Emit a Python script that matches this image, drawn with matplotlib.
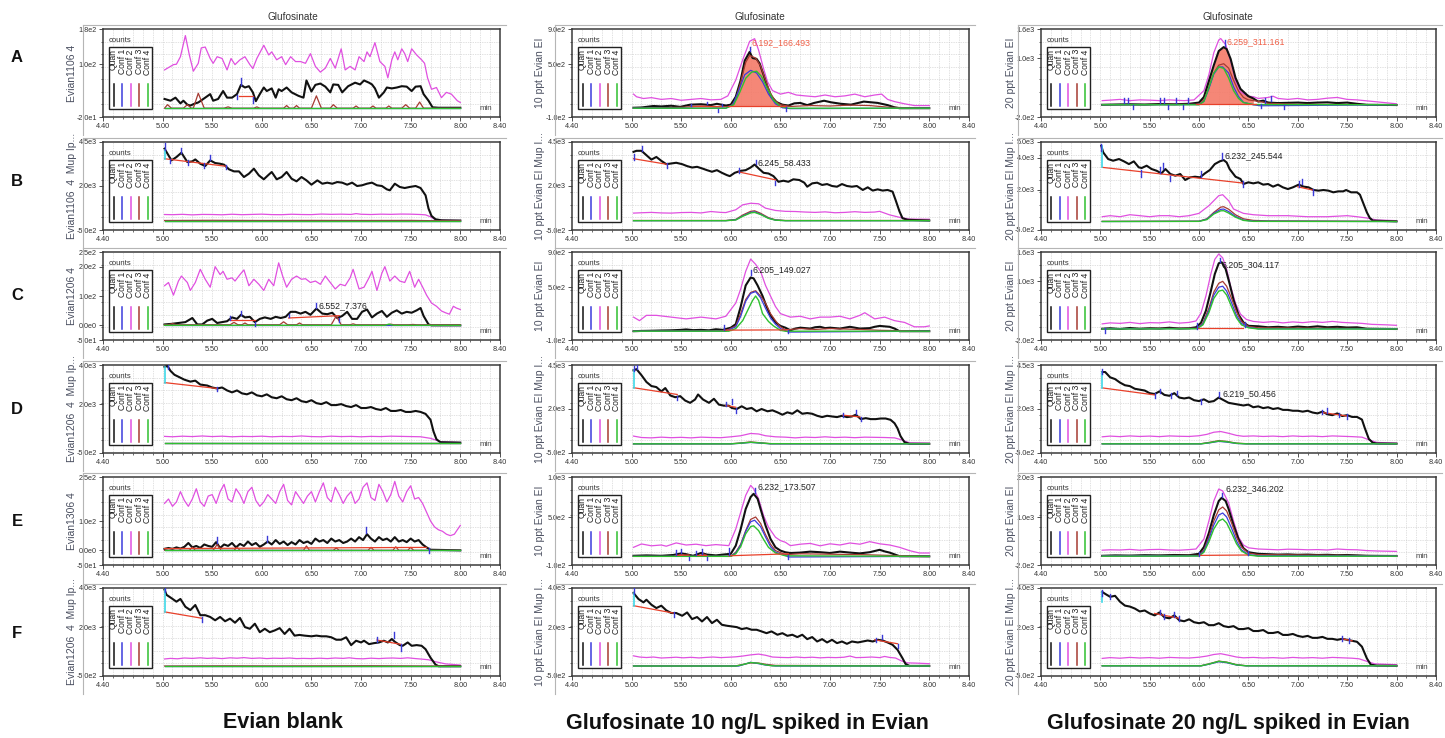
import numpy as np
import matplotlib
matplotlib.use("Agg")
import matplotlib.pyplot as plt
from matplotlib.patches import Rectangle
from matplotlib.lines import Line2D
from matplotlib.ticker import MultipleLocator
from matplotlib import font_manager

plt.rcParams['font.family'] = ['Liberation Sans', 'DejaVu Sans']
_names = {f.name for f in font_manager.fontManager.ttflist}
NARROW = ['Liberation Sans Narrow', 'Liberation Sans'] if 'Liberation Sans Narrow' in _names else ['Liberation Sans', 'DejaVu Sans']

# ====================== DATA ======================
COL_TITLES = ["Evian blank", "Glufosinate 10 ng/L spiked in Evian", "Glufosinate 20 ng/L spiked in Evian"]
ROW_LETTERS = ["A", "B", "C", "D", "E", "F"]
COMPOUND = "Glufosinate"
LEGEND_NAMES = ["Quan", "Conf 1", "Conf 2", "Conf 3", "Conf 4"]
X_TICKS = [4.40, 5.00, 5.50, 6.00, 6.50, 7.00, 7.50, 8.00, 8.40]

YLABELS_L = ["Evian1106 4", "Evian1106  4  Mup Ip...", "Evian1206 4",
             "Evian1206  4  Mup Ip...", "Evian1306 4", "Evian1206  4  Mup Ip..."]
YLABELS_M = ["10 ppt Evian EI", "10 ppt Evian EI Mup I...", "10 ppt Evian EI",
             "10 ppt Evian EI Mup I...", "10 ppt Evian EI", "10 ppt Evian EI Mup I..."]
YLABELS_R = ["20 ppt Evian EI", "20 ppt Evian EI Mup I...", "20 ppt Evian EI",
             "20 ppt Evian EI Mup I...", "20 ppt Evian EI", "20 ppt Evian EI Mup I..."]

# y tick values per panel (first = axis min, last = axis max)
YT_L = [[-20, 100, 180], [-500, 2000, 4500], [-50, 0, 100, 200, 250],
        [-500, 2000, 4000], [-50, 0, 100, 250], [-500, 2000, 4000]]
YT_M = [[-100, 500, 900], [-500, 2000, 4500], [-100, 500, 900],
        [-500, 2000, 4500], [-100, 500, 1000], [-500, 2000, 4000]]
YT_R = [[-200, 1000, 1600], [-500, 2000, 4000, 5000], [-200, 1000, 1600],
        [-500, 2000, 4500], [-200, 1000, 2000], [-500, 2000, 4000]]

# ---------------- Left column: Evian blank ----------------
LA_quan = [(5.02,21),(5.08,17),(5.13,24),(5.18,11),(5.21,17),(5.25,8),(5.28,6),(5.33,11),(5.36,13),(5.43,24),
           (5.48,32),(5.51,17),(5.56,21),(5.61,39),(5.65,24),(5.70,24),(5.75,32),(5.79,53),(5.83,47),(5.87,50),
           (5.91,36),(5.94,16),(5.98,32),(6.02,47),(6.05,39),(6.10,45),(6.14,24),(6.17,43),(6.20,39),(6.25,47),
           (6.30,36),(6.37,28),(6.42,24),(6.45,63),(6.50,38),(6.54,53),(6.59,56),(6.64,49),(6.69,36),(6.72,54),
           (6.77,53),(6.81,36),(6.87,50),(6.94,58),(6.99,54),(7.03,63),(7.08,58),(7.11,54),(7.14,45),(7.18,24),
           (7.23,36),(7.26,47),(7.31,45),(7.36,47),(7.41,50),(7.46,49),(7.51,39),(7.55,49),(7.60,50),(7.63,32),
           (7.68,17),(7.72,2),(7.78,1),(8.00,1)]
LA_c2 = [(5.02,87),(5.11,99),(5.14,100),(5.18,117),(5.23,165),(5.27,121),(5.31,84),(5.36,102),(5.39,137),(5.43,139),
         (5.48,113),(5.51,102),(5.55,117),(5.60,113),(5.65,87),(5.69,113),(5.73,99),(5.78,110),(5.83,117),(5.88,99),
         (5.91,90),(5.95,113),(6.02,143),(6.07,121),(6.10,128),(6.15,110),(6.20,117),(6.24,99),(6.29,117),(6.34,106),
         (6.39,106),(6.44,102),(6.49,124),(6.54,95),(6.59,82),(6.64,91),(6.69,113),(6.74,91),(6.80,135),(6.84,87),
         (6.89,95),(6.94,87),(6.98,117),(7.03,106),(7.06,128),(7.09,117),(7.14,149),(7.19,106),(7.24,95),(7.27,69),
         (7.31,110),(7.34,128),(7.37,110),(7.41,135),(7.44,124),(7.47,106),(7.51,135),(7.56,121),(7.61,110),(7.64,102),
         (7.67,69),(7.71,43),(7.76,47),(7.81,24),(7.86,36),(7.91,32),(7.97,17),(8.00,13)]
LA_c3 = [(5.02,0),(5.05,8),(5.09,0),(5.21,0),(5.25,8),(5.29,0),(5.31,0),(5.36,34),(5.42,0),(5.62,0),(5.66,3),
         (5.70,0),(5.92,0),(5.95,3),(5.98,0),(6.22,0),(6.25,6),(6.28,0),(6.32,0),(6.35,6),(6.38,0),(6.50,0),
         (6.55,28),(6.60,0),(6.69,0),(6.72,8),(6.76,0),(6.92,0),(6.95,5),(6.98,0),(7.09,0),(7.12,5),(7.15,0),
         (7.25,0),(7.28,5),(7.31,0),(7.41,0),(7.45,8),(7.49,0),(7.55,0),(7.59,14),(7.63,0),(8.00,0)]
LA_c1 = [(5.02,0),(8.00,0)]
LA_c4 = [(5.02,0),(8.00,0)]
LA_red = [((5.77,28),(5.91,28))]
LA_marks = [(5.79,53,68),(5.91,12,26),(5.75,20,30)]

LB_quan = [(5.02,4120),(5.06,3740),(5.09,3455),(5.14,3645),(5.19,3890),(5.25,3360),(5.30,3400),(5.33,3510),(5.38,3265),
           (5.43,3135),(5.48,3455),(5.53,3305),(5.58,3265),(5.62,3210),(5.67,2945),(5.72,2830),(5.77,2830),(5.82,2510),
           (5.87,2700),(5.92,2985),(5.97,2605),(6.02,2380),(6.07,2645),(6.10,2795),(6.15,2380),(6.20,2510),(6.25,2795),
           (6.30,2415),(6.35,2265),(6.40,2510),(6.45,2320),(6.50,2075),(6.56,2320),(6.61,2130),(6.66,2190),(6.71,2130),
           (6.76,2225),(6.81,2190),(6.86,2075),(6.91,2190),(6.96,2000),(7.01,2040),(7.06,2130),(7.11,2190),(7.16,2040),
           (7.21,2000),(7.26,1810),(7.29,1755),(7.34,2130),(7.39,1945),(7.44,1885),(7.49,1945),(7.55,2000),(7.60,1885),
           (7.65,1470),(7.68,715),(7.71,300),(7.75,110),(7.81,50),(8.00,35)]
LB_c2 = [(5.02,380),(5.10,370),(5.20,390),(5.30,360),(5.40,385),(5.50,380),(5.60,365),(5.70,395),(5.80,370),(5.90,385),
         (6.00,400),(6.10,375),(6.20,370),(6.30,395),(6.40,380),(6.50,375),(6.60,405),(6.70,390),(6.80,400),(6.90,385),
         (6.95,430),(7.00,395),(7.10,380),(7.20,400),(7.30,390),(7.40,405),(7.50,400),(7.60,380),(7.65,360),(7.70,250),
         (7.75,80),(7.85,50),(8.00,40)]
LB_c3 = [(5.02,40),(5.50,50),(6.00,40),(6.50,45),(7.00,40),(7.50,45),(7.70,30),(8.00,30)]
LB_c1 = [(5.02,30),(8.00,30)]
LB_c4 = [(5.02,30),(8.00,30)]
LB_red = [((5.02,3550),(5.64,3120))]
LB_cyan = [(5.02,3550,4020)]
LB_marks = [(5.02,4050,4450),(5.08,3300,3550),(5.19,3850,4150),(5.26,3200,3450),(5.42,3050,3300),(5.48,3450,3750),(5.64,2950,3200)]

LC_quan = [(5.02,3),(5.09,5),(5.16,8),(5.23,11),(5.30,25),(5.35,3),(5.40,3),(5.45,16),(5.50,22),(5.55,8),(5.60,11),
           (5.65,14),(5.70,27),(5.75,22),(5.79,36),(5.83,27),(5.88,29),(5.93,11),(5.98,22),(6.03,27),(6.09,22),(6.14,29),
           (6.19,25),(6.24,29),(6.29,46),(6.34,46),(6.39,40),(6.44,46),(6.49,36),(6.55,57),(6.61,40),(6.66,38),(6.71,43),
           (6.76,25),(6.81,32),(6.86,46),(6.91,22),(6.96,22),(7.01,46),(7.06,54),(7.11,27),(7.16,40),(7.21,49),(7.26,29),
           (7.31,43),(7.36,51),(7.41,40),(7.46,46),(7.51,43),(7.56,51),(7.60,59),(7.63,32),(7.68,3),(7.71,0),(8.00,0)]
LC_c2 = [(5.02,135),(5.06,146),(5.11,103),(5.16,151),(5.19,168),(5.25,146),(5.28,119),(5.33,146),(5.38,191),(5.43,157),
         (5.48,130),(5.53,200),(5.58,173),(5.61,184),(5.65,157),(5.70,162),(5.73,151),(5.78,173),(5.82,189),(5.87,135),
         (5.92,157),(5.97,140),(6.02,119),(6.07,157),(6.12,135),(6.17,213),(6.21,168),(6.25,130),(6.30,157),(6.35,168),
         (6.40,157),(6.44,159),(6.49,146),(6.54,151),(6.59,140),(6.64,168),(6.69,146),(6.74,124),(6.79,140),(6.84,135),
         (6.89,162),(6.92,191),(6.98,124),(7.03,130),(7.08,162),(7.11,184),(7.16,119),(7.21,178),(7.24,200),(7.29,151),
         (7.34,168),(7.39,151),(7.44,146),(7.49,184),(7.54,130),(7.58,157),(7.63,124),(7.66,103),(7.71,76),(7.76,65),
         (7.81,49),(7.85,43),(7.89,38),(7.93,65),(7.96,59),(8.00,54)]
LC_c3 = [(5.02,2),(5.06,2),(5.10,6),(5.14,2),(5.68,2),(5.72,10),(5.76,2),(5.80,2),(5.83,8),(5.86,2),(6.18,2),(6.22,12),
         (6.26,2),(6.35,2),(6.38,8),(6.41,2),(6.70,2),(6.75,32),(6.80,2),(6.89,2),(6.92,5),(6.95,2),(7.27,2),(7.30,4),
         (7.33,2),(7.48,2),(7.52,3),(7.56,2),(8.00,2)]
LC_c1 = [(5.02,0),(8.00,0)]
LC_c4 = [(5.02,0),(7.24,0),(7.28,4),(7.33,0),(8.00,0)]
LC_red = [((5.68,18),(5.93,18)), ((6.27,25),(6.78,33))]
LC_marks = [(5.68,18,32),(5.79,36,50),(5.93,-3,12),(6.27,27,40),(6.55,60,75),(6.78,10,25)]
LC_label = (6.575, 66, "6.552_7.376")

LD_quan = [(5.02,3900),(5.05,3950),(5.08,3700),(5.12,3500),(5.18,3350),(5.22,3250),(5.28,3150),(5.33,3200),(5.38,3000),
           (5.45,2950),(5.50,2850),(5.55,2800),(5.60,2850),(5.65,2700),(5.70,2600),(5.75,2700),(5.80,2550),(5.85,2500),
           (5.90,2600),(5.95,2450),(6.00,2400),(6.05,2500),(6.10,2350),(6.15,2300),(6.20,2400),(6.25,2250),(6.30,2200),
           (6.35,2300),(6.40,2150),(6.45,2100),(6.50,2200),(6.55,2050),(6.60,2000),(6.65,2100),(6.70,1950),(6.75,1950),
           (6.80,2000),(6.85,1900),(6.90,1850),(6.95,1950),(7.00,1800),(7.05,1800),(7.10,1850),(7.15,1750),(7.20,1700),
           (7.25,1800),(7.30,1650),(7.35,1650),(7.40,1700),(7.45,1600),(7.50,1600),(7.55,1650),(7.60,1600),(7.65,1500),
           (7.70,1200),(7.73,600),(7.76,200),(7.80,50),(8.00,30)]
LD_c2 = [(5.02,350),(5.10,330),(5.20,360),(5.30,340),(5.40,370),(5.50,340),(5.60,360),(5.70,330),(5.80,350),(5.90,340),
         (6.00,360),(6.10,330),(6.20,350),(6.30,340),(6.40,370),(6.50,340),(6.60,330),(6.70,360),(6.80,340),(6.90,350),
         (7.00,330),(7.10,350),(7.20,340),(7.30,360),(7.40,350),(7.50,340),(7.60,330),(7.70,250),(7.80,80),(8.00,40)]
LD_c3 = [(5.02,30),(8.00,30)]
LD_c1 = [(5.02,20),(8.00,20)]
LD_c4 = [(5.02,20),(8.00,20)]
LD_red = [((5.02,3100),(5.55,2800))]
LD_cyan = [(5.02,3100,3900)]
LD_marks = [(5.05,3800,4000),(5.55,2650,2900)]

LE_quan = [(5.02,5),(5.06,8),(5.10,5),(5.14,10),(5.18,6),(5.22,12),(5.26,25),(5.30,10),(5.34,15),(5.38,8),(5.42,20),
           (5.46,15),(5.50,12),(5.54,28),(5.58,8),(5.62,20),(5.66,15),(5.70,25),(5.74,10),(5.78,22),(5.82,15),(5.86,30),
           (5.90,18),(5.94,25),(5.98,12),(6.02,20),(6.06,30),(6.10,20),(6.14,35),(6.18,22),(6.22,30),(6.26,18),(6.30,28),
           (6.34,20),(6.38,35),(6.42,25),(6.46,30),(6.50,22),(6.54,40),(6.58,30),(6.62,35),(6.66,25),(6.70,40),(6.74,30),
           (6.78,35),(6.82,25),(6.86,30),(6.90,40),(6.94,30),(6.98,45),(7.02,35),(7.06,55),(7.10,40),(7.14,30),(7.18,45),
           (7.22,35),(7.26,40),(7.30,30),(7.34,45),(7.38,30),(7.42,35),(7.46,28),(7.50,40),(7.54,30),(7.58,35),(7.62,20),
           (7.66,10),(7.70,2),(8.00,0)]
LE_c2 = [(5.02,160),(5.06,175),(5.10,150),(5.14,165),(5.18,200),(5.22,170),(5.26,150),(5.30,175),(5.34,210),(5.38,165),
         (5.42,150),(5.46,185),(5.50,190),(5.54,160),(5.58,200),(5.62,225),(5.66,175),(5.70,165),(5.74,210),(5.78,190),
         (5.82,160),(5.86,200),(5.90,215),(5.94,170),(5.98,150),(6.02,165),(6.06,190),(6.10,175),(6.14,160),(6.18,200),
         (6.22,225),(6.26,170),(6.30,155),(6.34,200),(6.38,180),(6.42,160),(6.46,185),(6.50,200),(6.54,165),(6.58,200),
         (6.62,230),(6.66,180),(6.70,165),(6.74,215),(6.78,190),(6.82,160),(6.86,185),(6.90,200),(6.94,160),(6.98,175),
         (7.02,215),(7.06,230),(7.10,180),(7.14,170),(7.18,225),(7.22,200),(7.26,165),(7.30,190),(7.34,235),(7.38,185),
         (7.42,165),(7.46,200),(7.50,220),(7.54,175),(7.58,180),(7.62,160),(7.66,130),(7.70,100),(7.74,80),(7.78,70),
         (7.82,65),(7.86,55),(7.90,50),(7.94,55),(7.97,70),(8.00,85)]
LE_c3 = [(5.02,0),(5.27,0),(5.30,10),(5.33,0),(5.51,0),(5.55,20),(5.59,0),(5.72,0),(5.75,10),(5.78,0),(6.42,0),(6.45,15),
         (6.48,0),(6.72,0),(6.75,8),(6.78,0),(7.07,0),(7.10,10),(7.13,0),(7.32,0),(7.35,12),(7.38,0),(7.47,0),(7.50,10),
         (7.53,0),(8.00,0)]
LE_c1 = [(5.02,0),(8.00,0)]
LE_c4 = [(5.02,0),(8.00,0)]
LE_red = [((5.02,6),(7.66,10))]
LE_marks = [(5.55,25,45),(6.05,30,50),(7.05,60,78),(7.68,-8,8)]

LF_quan = [(5.02,3910),(5.04,3650),(5.09,3480),(5.14,3300),(5.18,3440),(5.23,3040),(5.28,2870),(5.33,3130),(5.38,2610),
           (5.43,2610),(5.48,2520),(5.53,2350),(5.58,2520),(5.63,2300),(5.68,2435),(5.73,2225),(5.78,2470),(5.83,2000),
           (5.88,1915),(5.93,2175),(5.98,1740),(6.03,1915),(6.08,1740),(6.13,1830),(6.18,1950),(6.23,1650),(6.28,1915),
           (6.33,1565),(6.38,1600),(6.43,1565),(6.50,1530),(6.55,1565),(6.60,1530),(6.65,1530),(6.70,1480),(6.75,1355),
           (6.80,1355),(6.85,1480),(6.90,1080),(6.95,1305),(7.00,1215),(7.03,1305),(7.08,1130),(7.13,1180),(7.18,1215),
           (7.23,1305),(7.27,1215),(7.31,1390),(7.34,1250),(7.39,1080),(7.42,1045),(7.47,1215),(7.51,1045),(7.56,1080),
           (7.61,1045),(7.65,870),(7.70,435),(7.75,85),(7.78,0),(8.00,0)]
LF_c2 = [(5.02,370),(5.08,400),(5.15,380),(5.22,420),(5.30,400),(5.38,430),(5.45,400),(5.52,420),(5.60,390),(5.68,430),
         (5.75,410),(5.82,440),(5.90,400),(5.98,420),(6.05,390),(6.12,410),(6.20,400),(6.28,420),(6.35,390),(6.42,400),
         (6.50,390),(6.58,410),(6.66,390),(6.74,420),(6.82,400),(6.88,430),(6.95,390),(7.02,380),(7.10,410),(7.18,390),
         (7.25,410),(7.32,420),(7.40,400),(7.47,430),(7.55,390),(7.62,360),(7.68,330),(7.75,230),(7.85,120),(8.00,60)]
LF_c3 = [(5.02,10),(5.60,20),(6.20,15),(7.10,25),(8.00,5)]
LF_c1 = [(5.02,0),(8.00,0)]
LF_c4 = [(5.02,0),(8.00,0)]
LF_red = [((5.02,2780),(5.40,2450)), ((7.16,1340),(7.40,1120))]
LF_cyan = [(5.02,2780,3910)]
LF_marks = [(5.02,3800,4050),(5.40,2260,2520),(7.16,1220,1480),(7.33,1430,1740),(7.40,780,1130)]

# ---------------- Middle column: 10 ng/L ----------------
MA_quan = [(5.02,5),(5.10,8),(5.22,25),(5.30,20),(5.40,28),(5.49,15),(5.59,40),(5.70,45),(5.80,35),(5.86,50),(5.95,30),
           (6.00,40),(6.05,130),(6.10,320),(6.14,540),(6.19,640),(6.22,570),(6.26,560),(6.29,510),(6.33,380),(6.37,240),
           (6.41,130),(6.46,70),(6.52,40),(6.58,30),(6.64,55),(6.70,60),(6.77,35),(6.84,60),(6.94,85),(7.01,67),(7.11,50),
           (7.21,40),(7.34,75),(7.48,60),(7.58,35),(7.65,10),(7.70,0),(8.00,0)]
MA_c2 = [(5.02,160),(5.05,130),(5.12,110),(5.20,120),(5.30,100),(5.40,110),(5.50,90),(5.60,100),(5.70,110),(5.80,95),
         (5.90,100),(5.97,140),(6.05,320),(6.12,550),(6.19,760),(6.24,790),(6.28,660),(6.33,450),(6.37,300),(6.42,200),
         (6.50,160),(6.58,180),(6.66,150),(6.75,140),(6.85,130),(6.95,150),(7.05,130),(7.15,140),(7.25,160),(7.35,130),
         (7.45,150),(7.52,160),(7.58,100),(7.65,75),(7.75,50),(7.85,30),(8.00,30)]
MA_c3 = [(5.02,0),(5.50,10),(5.70,25),(5.85,15),(6.00,20),(6.05,100),(6.10,300),(6.15,520),(6.19,600),(6.25,570),
         (6.30,480),(6.35,320),(6.40,170),(6.45,80),(6.50,40),(6.60,20),(6.80,30),(7.00,25),(7.20,35),(7.40,30),
         (7.60,10),(8.00,0)]
MA_c1 = [(5.02,0),(5.95,0),(6.02,40),(6.08,200),(6.14,380),(6.20,430),(6.26,400),(6.32,300),(6.38,160),(6.45,50),
         (6.52,5),(6.60,-5),(8.00,0)]
MA_c4 = [(5.02,0),(5.95,0),(6.03,40),(6.09,180),(6.15,340),(6.21,410),(6.26,420),(6.31,360),(6.37,220),(6.43,90),
         (6.50,20),(6.58,0),(8.00,0)]
MA_fill = (5.97, 6.56, 25)
MA_red = [((5.97,25),(6.56,25)), ((5.60,30),(5.90,30))]
MA_marks = [(5.60,20,45),(5.76,50,75),(5.87,-40,-10),(5.91,20,45),(6.19,650,700),(6.56,-30,10)]
MA_label = (6.205, 740, "6.192_166.493")

MB_quan = [(5.02,3940),(5.05,4000),(5.10,4000),(5.15,3750),(5.20,3500),(5.25,3650),(5.30,3430),(5.35,3240),(5.40,3280),
           (5.45,3320),(5.51,3240),(5.56,3130),(5.61,3050),(5.66,3090),(5.71,3000),(5.76,2900),(5.81,2810),(5.86,2900),
           (5.91,2750),(5.96,2620),(5.99,2560),(6.04,2750),(6.10,2860),(6.15,2900),(6.20,3050),(6.24,3220),(6.28,3000),
           (6.33,2750),(6.38,2710),(6.43,2560),(6.48,2240),(6.53,2300),(6.58,2240),(6.63,2380),(6.69,2340),(6.74,2190),
           (6.77,1960),(6.82,2150),(6.87,2190),(6.92,2060),(6.97,2110),(7.02,2000),(7.07,1960),(7.12,2110),(7.17,2000),
           (7.22,1960),(7.27,2000),(7.33,1775),(7.38,1925),(7.43,1740),(7.48,1810),(7.53,1740),(7.58,1775),(7.63,1680),
           (7.66,1210),(7.70,550),(7.73,170),(7.78,80),(8.00,40)]
MB_c2 = [(5.02,460),(5.10,480),(5.20,500),(5.30,470),(5.40,460),(5.50,490),(5.60,500),(5.70,470),(5.80,550),(5.90,500),
         (5.95,490),(6.05,650),(6.12,930),(6.20,1020),(6.28,990),(6.35,740),(6.45,610),(6.55,560),(6.65,550),(6.75,520),
         (6.85,500),(6.95,530),(7.05,480),(7.15,500),(7.25,540),(7.35,500),(7.45,520),(7.50,560),(7.60,360),(7.70,220),
         (7.80,120),(8.00,110)]
MB_c3 = [(5.02,40),(5.95,40),(6.05,100),(6.12,350),(6.20,560),(6.24,590),(6.30,450),(6.38,200),(6.45,80),(6.55,40),(8.00,40)]
MB_c1 = [(5.02,30),(5.95,30),(6.05,80),(6.12,300),(6.20,500),(6.24,530),(6.30,400),(6.38,170),(6.45,60),(6.55,30),(8.00,30)]
MB_c4 = [(5.02,30),(5.95,30),(6.05,70),(6.12,280),(6.20,470),(6.24,500),(6.30,380),(6.38,160),(6.45,60),(6.55,30),(8.00,30)]
MB_red = [((5.02,3550),(5.36,3230)), ((6.08,2800),(6.45,2350))]
MB_marks = [(5.02,3500,3800),(5.11,4000,4250),(5.36,3050,3300),(6.08,2750,3000),(6.25,3250,3500),(6.45,2050,2300)]
MB_label = (6.265, 3350, "6.245_58.433")

MC_quan = [(5.02,0),(5.10,3),(5.20,5),(5.30,8),(5.40,10),(5.50,15),(5.55,20),(5.62,12),(5.70,15),(5.78,10),(5.85,22),
           (5.92,15),(6.00,40),(6.05,80),(6.10,280),(6.15,520),(6.20,610),(6.23,600),(6.27,520),(6.32,400),(6.36,280),
           (6.40,180),(6.45,100),(6.50,60),(6.55,40),(6.60,10),(6.65,30),(6.70,40),(6.80,30),(6.85,45),(6.90,50),
           (6.95,35),(7.00,40),(7.10,30),(7.20,50),(7.30,30),(7.40,35),(7.45,50),(7.50,60),(7.55,55),(7.60,50),(7.65,30),
           (7.70,0),(8.00,0)]
MC_c2 = [(5.02,160),(5.08,120),(5.15,180),(5.25,180),(5.40,160),(5.55,140),(5.70,160),(5.85,140),(5.95,170),(6.05,320),
         (6.10,480),(6.15,680),(6.20,820),(6.25,760),(6.30,680),(6.35,520),(6.40,400),(6.45,280),(6.50,200),(6.60,160),
         (6.70,170),(6.80,140),(6.90,160),(7.00,160),(7.10,170),(7.20,140),(7.30,180),(7.35,210),(7.45,140),(7.55,160),
         (7.65,120),(7.75,100),(7.85,50),(7.95,50),(8.00,60)]
MC_c3 = [(5.02,0),(5.95,5),(6.05,60),(6.10,200),(6.15,360),(6.20,440),(6.25,460),(6.30,400),(6.35,320),(6.40,200),
         (6.45,120),(6.50,50),(6.55,15),(6.70,30),(6.85,20),(7.00,30),(7.30,20),(7.50,10),(8.00,0)]
MC_c1 = [(5.02,0),(5.95,0),(6.05,50),(6.10,170),(6.15,340),(6.20,430),(6.25,450),(6.30,380),(6.35,260),(6.40,150),
         (6.45,80),(6.50,30),(6.58,-10),(8.00,0)]
MC_c4 = [(5.02,0),(5.98,0),(6.05,30),(6.12,120),(6.18,260),(6.22,350),(6.25,400),(6.28,350),(6.32,200),(6.38,110),
         (6.43,60),(6.50,10),(6.55,0),(8.00,0)]
MC_red = [((5.93,12),(6.58,15))]
MC_marks = [(5.93,10,70),(6.20,640,700),(6.58,-20,15)]
MC_label = (6.22, 700, "6.205_149.027")

MD_quan = [(5.02,4200),(5.05,4265),(5.10,3920),(5.15,3535),(5.20,3305),(5.25,3245),(5.30,3000),(5.34,3190),(5.39,2770),
           (5.44,2670),(5.49,2730),(5.54,2480),(5.59,2350),(5.64,2540),(5.67,2825),(5.72,2540),(5.78,2350),(5.83,2580),
           (5.88,2250),(5.93,2190),(5.98,2190),(6.01,2060),(6.06,2000),(6.11,2155),(6.16,2000),(6.21,2060),(6.26,1870),
           (6.31,2000),(6.37,1870),(6.42,1925),(6.47,1810),(6.52,1675),(6.57,1810),(6.62,1730),(6.67,1925),(6.72,1730),
           (6.77,1770),(6.82,1730),(6.87,1615),(6.92,1540),(6.97,1615),(7.02,1575),(7.07,1540),(7.12,1615),(7.17,1540),
           (7.22,1575),(7.26,1675),(7.31,1425),(7.36,1480),(7.41,1425),(7.46,1425),(7.51,1460),(7.56,1460),(7.61,1385),
           (7.65,1190),(7.68,900),(7.71,460),(7.75,115),(7.80,20),(8.00,20)]
MD_c2 = [(5.02,460),(5.10,380),(5.20,360),(5.30,400),(5.40,370),(5.50,390),(5.60,360),(5.70,400),(5.80,380),(5.90,370),
         (6.00,420),(6.10,480),(6.20,610),(6.28,580),(6.35,480),(6.45,420),(6.55,400),(6.65,360),(6.75,400),(6.85,380),
         (6.95,420),(7.05,380),(7.15,400),(7.25,370),(7.35,400),(7.45,390),(7.55,380),(7.65,360),(7.72,250),(7.80,80),
         (8.00,60)]
MD_c3 = [(5.02,25),(6.00,25),(6.10,70),(6.20,130),(6.30,80),(6.40,30),(8.00,25)]
MD_c1 = [(5.02,20),(6.00,20),(6.10,50),(6.20,100),(6.30,60),(6.40,20),(8.00,20)]
MD_c4 = [(5.02,20),(6.00,20),(6.10,60),(6.20,110),(6.30,70),(6.40,30),(8.00,20)]
MD_red = [((5.02,3210),(5.46,2825)), ((5.95,2200),(6.05,2100)), ((7.13,1650),(7.30,1550))]
MD_cyan = [(5.02,3210,4200)]
MD_marks = [(5.02,4150,4450),(5.05,4250,4500),(5.46,2500,2750),(5.95,2150,2400),(6.01,2300,2550),(6.05,1800,2050),
            (7.13,1550,1800),(7.26,1700,1950),(7.31,1300,1550)]

ME_quan = [(5.02,15),(5.15,20),(5.30,15),(5.42,25),(5.50,45),(5.55,35),(5.62,15),(5.70,50),(5.76,30),(5.85,20),(5.92,30),
           (6.00,40),(6.05,142),(6.10,350),(6.15,600),(6.20,750),(6.23,790),(6.27,728),(6.30,600),(6.35,393),(6.40,226),
           (6.45,121),(6.50,80),(6.55,59),(6.60,50),(6.70,55),(6.80,67),(6.90,60),(7.00,50),(7.10,67),(7.20,55),(7.30,45),
           (7.40,60),(7.45,75),(7.50,90),(7.55,70),(7.60,55),(7.70,10),(8.00,8)]
ME_c2 = [(5.02,121),(5.10,163),(5.20,140),(5.30,150),(5.35,135),(5.45,176),(5.55,150),(5.65,160),(5.75,142),(5.85,155),
         (5.92,148),(5.98,142),(6.05,350),(6.10,560),(6.15,770),(6.20,895),(6.23,854),(6.28,728),(6.33,519),(6.38,372),
         (6.45,247),(6.50,205),(6.55,184),(6.60,142),(6.70,160),(6.80,170),(6.90,140),(7.00,165),(7.10,150),(7.20,175),
         (7.30,160),(7.40,192),(7.50,165),(7.60,150),(7.70,121),(7.80,80),(7.90,50),(8.00,50)]
ME_c3 = [(5.02,8),(5.45,8),(5.50,30),(5.58,8),(5.68,8),(5.72,40),(5.78,8),(6.00,10),(6.05,60),(6.10,160),(6.15,330),
         (6.20,470),(6.25,500),(6.30,420),(6.35,280),(6.40,160),(6.45,80),(6.55,30),(6.70,40),(7.00,35),(7.30,30),
         (7.60,20),(8.00,8)]
ME_c1 = [(5.02,8),(6.00,8),(6.05,50),(6.10,150),(6.15,320),(6.20,440),(6.24,460),(6.30,380),(6.35,250),(6.40,130),
         (6.45,60),(6.55,20),(6.58,0),(8.00,8)]
ME_c4 = [(5.02,8),(6.00,8),(6.05,40),(6.10,130),(6.15,290),(6.20,380),(6.23,390),(6.28,330),(6.33,220),(6.38,120),
         (6.45,50),(6.55,15),(8.00,8)]
ME_red = [((5.45,20),(5.58,25)), ((5.65,25),(5.75,25)), ((5.98,15),(6.58,40))]
ME_marks = [(5.45,30,90),(5.50,50,100),(5.58,-40,0),(5.65,20,70),(5.71,40,100),(5.76,-40,0),(5.98,30,110),
            (6.24,800,860),(6.58,-20,30)]
ME_label = (6.265, 880, "6.232_173.507")

MF_quan = [(5.02,3745),(5.07,3435),(5.12,3265),(5.15,3400),(5.20,3145),(5.25,2975),(5.30,3095),(5.35,2855),(5.40,2720),
           (5.45,2720),(5.51,2580),(5.56,2750),(5.61,2410),(5.66,2515),(5.71,2290),(5.76,2515),(5.81,2205),(5.86,2375),
           (5.91,2120),(5.96,2070),(6.01,2035),(6.06,2000),(6.11,1900),(6.16,1950),(6.21,1865),(6.26,1865),(6.31,1780),
           (6.36,1690),(6.41,1780),(6.47,1610),(6.52,1690),(6.57,1555),(6.62,1610),(6.67,1490),(6.72,1610),(6.77,1385),
           (6.82,1490),(6.87,1265),(6.92,1385),(6.97,1215),(7.02,1350),(7.07,1180),(7.12,1265),(7.17,1145),(7.22,1265),
           (7.28,1215),(7.33,1265),(7.38,1315),(7.43,1265),(7.48,1350),(7.53,1315),(7.58,1215),(7.63,1095),(7.68,840),
           (7.73,410),(7.76,120),(7.80,15),(8.00,15)]
MF_c2 = [(5.02,530),(5.08,470),(5.15,445),(5.22,470),(5.30,420),(5.38,440),(5.45,460),(5.52,430),(5.60,455),(5.68,425),
         (5.75,450),(5.82,470),(5.90,440),(5.98,460),(6.05,480),(6.12,520),(6.20,580),(6.28,620),(6.35,560),(6.42,470),
         (6.50,450),(6.58,440),(6.66,470),(6.74,440),(6.82,460),(6.90,430),(6.98,450),(7.06,440),(7.14,460),(7.20,520),
         (7.26,440),(7.34,450),(7.42,470),(7.50,440),(7.55,500),(7.60,450),(7.66,420),(7.72,270),(7.78,170),(7.86,160),
         (8.00,130)]
MF_c3 = [(5.02,15),(6.05,15),(6.12,90),(6.20,170),(6.28,160),(6.35,100),(6.45,40),(8.00,15)]
MF_c1 = [(5.02,10),(6.08,10),(6.15,120),(6.20,200),(6.26,150),(6.35,60),(6.45,10),(8.00,10)]
MF_c4 = [(5.02,10),(6.05,10),(6.12,80),(6.20,190),(6.28,150),(6.35,70),(6.42,20),(8.00,10)]
MF_red = [((5.02,3095),(5.42,2720)), ((7.45,1350),(7.68,1150))]
MF_cyan = [(5.02,3095,3745)]
MF_marks = [(5.02,3700,4000),(5.43,2500,2750),(7.46,1250,1450),(7.52,1400,1600),(7.68,950,1150)]

# ---------------- Right column: 20 ng/L ----------------
RA_quan = [(5.02,50),(5.15,55),(5.30,60),(5.45,55),(5.60,65),(5.75,60),(5.90,70),(6.00,95),(6.05,210),(6.10,535),
           (6.15,860),(6.20,1150),(6.25,1230),(6.28,1190),(6.32,990),(6.37,600),(6.42,375),(6.47,280),(6.50,225),
           (6.55,180),(6.60,115),(6.65,135),(6.70,95),(6.80,85),(6.90,90),(7.00,95),(7.10,85),(7.20,95),(7.30,100),
           (7.40,85),(7.50,95),(7.60,70),(7.70,50),(8.00,45)]
RA_c2 = [(5.02,135),(5.10,145),(5.20,160),(5.30,135),(5.40,150),(5.50,145),(5.60,135),(5.70,150),(5.85,135),(5.95,150),
         (6.05,340),(6.10,665),(6.15,1115),(6.20,1375),(6.22,1405),(6.27,1280),(6.32,955),(6.37,535),(6.42,310),
         (6.50,225),(6.55,215),(6.60,180),(6.70,200),(6.75,225),(6.80,180),(6.90,160),(7.00,180),(7.10,150),(7.20,160),
         (7.30,185),(7.40,200),(7.50,160),(7.60,150),(7.70,130),(7.80,110),(8.00,70)]
RA_c3 = [(5.02,50),(6.00,60),(6.05,150),(6.10,400),(6.15,700),(6.20,860),(6.25,890),(6.30,800),(6.35,550),(6.40,330),
         (6.45,200),(6.50,150),(6.60,120),(6.70,80),(7.00,60),(8.00,50)]
RA_c1 = [(5.02,50),(6.00,55),(6.05,120),(6.10,380),(6.15,680),(6.20,820),(6.24,825),(6.30,700),(6.35,420),(6.40,220),
         (6.45,100),(6.55,50),(6.62,30),(8.00,50)]
RA_c4 = [(5.02,50),(6.00,50),(6.05,120),(6.10,405),(6.15,700),(6.20,825),(6.25,795),(6.30,600),(6.35,340),(6.40,180),
         (6.45,95),(6.55,55),(8.00,50)]
RA_fill = (5.97, 6.58, 70)
RA_red = [((5.97,70),(6.58,70))]
RA_marks = [(5.24,85,180),(5.28,85,180),(5.33,-45,50),(5.61,85,180),(5.65,85,180),(5.69,-45,50),(5.77,85,180),
            (5.84,-45,50),(5.89,85,180),(6.26,1245,1375),(6.63,-20,60),(6.67,85,180),(6.73,120,220),(6.86,-45,50)]
RA_label = (6.28, 1330, "6.259_311.161")

RB_quan = [(5.01,4770),(5.03,4350),(5.08,3935),(5.13,3830),(5.19,3935),(5.24,3790),(5.29,3620),(5.34,3790),(5.39,3415),
           (5.42,3375),(5.47,3520),(5.52,3310),(5.57,3205),(5.62,3040),(5.66,3310),(5.71,3000),(5.76,2895),(5.81,3000),
           (5.86,2625),(5.91,2790),(5.96,2830),(6.01,2790),(6.06,3040),(6.11,3250),(6.16,3620),(6.21,3790),(6.25,3870),
           (6.28,3720),(6.31,3310),(6.37,2830),(6.42,2690),(6.45,2375),(6.50,2480),(6.55,2415),(6.60,2480),(6.65,2335),
           (6.70,2375),(6.75,2210),(6.80,2335),(6.85,2165),(6.90,2060),(6.95,2165),(7.01,2335),(7.06,2210),(7.11,2165),
           (7.16,2000),(7.21,1960),(7.26,2000),(7.31,1960),(7.36,1855),(7.41,1915),(7.46,1915),(7.49,2000),(7.54,1855),
           (7.60,1855),(7.63,1705),(7.66,1230),(7.70,600),(7.73,250),(7.76,85),(8.00,40)]
RB_c2 = [(5.02,330),(5.10,395),(5.20,330),(5.30,455),(5.40,395),(5.50,330),(5.60,395),(5.70,395),(5.80,330),(5.90,395),
         (6.00,540),(6.10,1020),(6.20,1645),(6.24,1705),(6.30,1330),(6.35,810),(6.45,540),(6.55,455),(6.70,395),
         (6.90,395),(7.10,330),(7.30,330),(7.50,395),(7.60,330),(7.70,250),(7.80,125),(8.00,85)]
RB_c3 = [(5.02,40),(6.00,50),(6.08,200),(6.15,600),(6.22,930),(6.25,955),(6.30,800),(6.37,450),(6.45,200),(6.55,100),
         (6.70,70),(8.00,40)]
RB_c1 = [(5.02,30),(6.00,40),(6.08,180),(6.15,550),(6.22,790),(6.25,810),(6.30,650),(6.37,350),(6.45,120),(6.55,50),
         (8.00,30)]
RB_c4 = [(5.02,30),(6.00,40),(6.08,150),(6.15,500),(6.22,700),(6.25,705),(6.30,560),(6.37,300),(6.45,100),(6.55,40),
         (8.00,30)]
RB_red = [((5.02,3415),(6.45,2430)), ((7.00,2200),(7.15,2000))]
RB_cyan = [(5.02,3415,4770)]
RB_marks = [(5.01,4455,4870),(5.41,2830,3250),(5.61,3040,3455),(5.64,3310,3665),(5.71,2580,2895),(6.02,2790,3205),
            (6.23,3935,4290),(6.45,2165,2580),(7.01,2165,2580),(7.04,2375,2685),(7.15,1710,2060)]
RB_label = (6.26, 4150, "6.232_245.544")

RC_quan = [(5.02,30),(5.10,40),(5.20,25),(5.30,45),(5.40,30),(5.50,40),(5.60,35),(5.70,50),(5.80,35),(5.90,40),(5.97,60),
           (6.02,150),(6.07,400),(6.12,800),(6.16,1150),(6.20,1370),(6.23,1390),(6.27,1250),(6.31,950),(6.35,620),
           (6.40,320),(6.45,160),(6.50,90),(6.60,80),(6.70,60),(6.80,70),(6.90,55),(7.00,75),(7.10,60),(7.20,80),
           (7.30,60),(7.40,70),(7.50,55),(7.60,60),(7.70,30),(8.00,25)]
RC_c2 = [(5.02,130),(5.10,150),(5.20,140),(5.30,160),(5.40,135),(5.50,155),(5.60,150),(5.70,170),(5.80,145),(5.90,160),
         (5.97,190),(6.02,350),(6.07,700),(6.12,1150),(6.16,1450),(6.20,1560),(6.24,1480),(6.28,1250),(6.32,900),
         (6.37,550),(6.42,330),(6.48,220),(6.55,180),(6.65,160),(6.75,175),(6.85,150),(6.95,170),(7.05,155),(7.15,175),
         (7.25,160),(7.35,180),(7.45,160),(7.55,150),(7.65,140),(7.75,120),(7.90,110),(8.00,100)]
RC_c3 = [(5.02,30),(5.98,40),(6.04,150),(6.10,450),(6.15,780),(6.20,960),(6.24,1000),(6.28,900),(6.33,650),(6.38,380),
         (6.43,180),(6.50,80),(6.60,50),(8.00,30)]
RC_c1 = [(5.02,30),(5.98,35),(6.04,130),(6.10,400),(6.15,720),(6.20,880),(6.24,900),(6.28,800),(6.33,560),(6.38,300),
         (6.43,140),(6.50,60),(6.60,30),(8.00,30)]
RC_c4 = [(5.02,25),(5.98,30),(6.04,110),(6.10,360),(6.15,650),(6.20,800),(6.24,820),(6.28,720),(6.33,480),(6.38,250),
         (6.43,110),(6.50,50),(6.60,25),(8.00,25)]
RC_red = [((5.98,45),(6.45,45))]
RC_marks = [(5.05,-60,40),(5.98,30,150),(6.21,1390,1470),(6.47,60,160)]
RC_label = (6.23, 1330, "6.205_304.117")

RD_quan = [(5.02,4100),(5.05,4100),(5.10,3800),(5.15,3700),(5.20,3500),(5.25,3350),(5.30,3300),(5.35,3150),(5.40,3100),
           (5.45,3050),(5.50,2900),(5.55,2850),(5.60,3000),(5.65,2800),(5.70,2750),(5.75,2900),(5.80,2650),(5.85,2600),
           (5.90,2650),(5.95,2500),(6.00,2450),(6.05,2550),(6.10,2400),(6.15,2450),(6.20,2650),(6.25,2500),(6.30,2350),
           (6.35,2300),(6.40,2250),(6.45,2200),(6.50,2250),(6.55,2100),(6.60,2150),(6.65,2050),(6.70,2100),(6.75,2000),
           (6.80,2050),(6.85,1950),(6.90,1950),(6.95,1900),(7.00,1900),(7.05,1850),(7.10,1900),(7.15,1800),(7.20,1750),
           (7.25,1850),(7.30,1700),(7.35,1650),(7.40,1750),(7.45,1600),(7.50,1650),(7.55,1550),(7.60,1550),(7.65,1400),
           (7.68,900),(7.72,300),(7.76,80),(7.80,40),(8.00,30)]
RD_c2 = [(5.02,420),(5.10,460),(5.20,430),(5.30,470),(5.40,440),(5.50,460),(5.60,430),(5.70,470),(5.80,450),(5.90,440),
         (6.00,480),(6.08,560),(6.15,680),(6.22,720),(6.30,620),(6.38,500),(6.45,450),(6.55,470),(6.65,440),(6.75,460),
         (6.85,430),(6.95,470),(7.05,440),(7.15,460),(7.25,430),(7.35,470),(7.45,450),(7.55,430),(7.65,400),(7.72,250),
         (7.80,100),(8.00,60)]
RD_c3 = [(5.02,30),(6.02,30),(6.10,100),(6.20,200),(6.28,160),(6.38,60),(6.48,30),(8.00,30)]
RD_c1 = [(5.02,20),(6.02,20),(6.10,70),(6.20,160),(6.28,120),(6.38,40),(6.48,20),(8.00,20)]
RD_c4 = [(5.02,20),(6.02,20),(6.10,80),(6.20,180),(6.28,140),(6.38,50),(6.48,20),(8.00,20)]
RD_red = [((5.02,3200),(5.55,2800)), ((7.25,1800),(7.50,1600))]
RD_cyan = [(5.02,3200,4100)]
RD_marks = [(5.02,4000,4300),(5.55,2650,2900),(5.60,2900,3150),(5.72,2650,2900),(5.78,2800,3050),(6.02,2300,2550),
            (6.20,2700,2950),(7.25,1700,1950),(7.30,1800,2050),(7.42,1550,1800),(7.50,1450,1700)]
RD_label = (6.24, 2850, "6.219_50.456")

RE_quan = [(5.02,30),(5.15,40),(5.30,35),(5.45,45),(5.60,40),(5.75,50),(5.90,45),(6.00,80),(6.05,250),(6.10,600),
           (6.15,1050),(6.20,1400),(6.23,1480),(6.27,1400),(6.30,1200),(6.35,800),(6.40,450),(6.45,220),(6.50,120),
           (6.60,80),(6.70,70),(6.80,60),(6.90,65),(7.00,55),(7.10,60),(7.20,50),(7.30,55),(7.40,45),(7.50,50),(7.60,40),
           (7.70,30),(8.00,25)]
RE_c2 = [(5.02,170),(5.10,180),(5.20,175),(5.30,190),(5.40,170),(5.50,185),(5.60,190),(5.70,175),(5.80,170),(5.90,185),
         (5.97,200),(6.05,450),(6.10,900),(6.15,1400),(6.20,1700),(6.24,1650),(6.30,1350),(6.35,900),(6.40,500),
         (6.45,300),(6.50,230),(6.60,200),(6.70,190),(6.80,180),(6.90,195),(7.00,190),(7.10,180),(7.20,185),(7.30,175),
         (7.40,200),(7.50,185),(7.60,180),(7.70,160),(7.80,150),(8.00,140)]
RE_c3 = [(5.02,30),(6.00,40),(6.05,180),(6.10,500),(6.15,900),(6.20,1180),(6.24,1250),(6.28,1150),(6.33,850),(6.38,500),
         (6.43,250),(6.50,100),(6.60,60),(8.00,30)]
RE_c1 = [(5.02,25),(6.00,30),(6.05,150),(6.10,450),(6.15,800),(6.20,1050),(6.24,1100),(6.28,1000),(6.33,720),(6.38,400),
         (6.43,180),(6.50,60),(6.60,30),(8.00,25)]
RE_c4 = [(5.02,20),(6.00,25),(6.05,120),(6.10,380),(6.15,700),(6.20,900),(6.24,950),(6.28,850),(6.33,600),(6.38,330),
         (6.43,150),(6.50,50),(6.60,20),(8.00,20)]
RE_red = [((6.00,40),(6.50,50))]
RE_marks = [(6.00,30,120),(6.23,1500,1600),(6.50,60,150)]
RE_label = (6.27, 1700, "6.232_346.202")

RF_quan = [(5.02,3800),(5.05,3700),(5.10,3550),(5.15,3600),(5.20,3300),(5.25,3100),(5.30,3050),(5.35,2950),(5.40,2800),
           (5.45,2850),(5.50,2700),(5.55,2600),(5.60,2750),(5.65,2500),(5.70,2450),(5.75,2600),(5.80,2350),(5.85,2300),
           (5.90,2400),(5.95,2250),(6.00,2200),(6.05,2250),(6.10,2100),(6.15,2100),(6.20,2200),(6.25,2050),(6.30,2000),
           (6.35,2050),(6.40,1900),(6.45,1900),(6.50,1950),(6.55,1800),(6.60,1800),(6.65,1850),(6.70,1700),(6.75,1700),
           (6.80,1750),(6.85,1600),(6.90,1600),(6.95,1650),(7.00,1550),(7.05,1500),(7.10,1550),(7.15,1450),(7.20,1450),
           (7.25,1500),(7.30,1400),(7.35,1400),(7.40,1350),(7.45,1400),(7.50,1350),(7.55,1300),(7.60,1250),(7.65,1000),
           (7.70,400),(7.74,80),(7.80,30),(8.00,20)]
RF_c2 = [(5.02,400),(5.10,440),(5.20,410),(5.30,450),(5.40,420),(5.50,440),(5.60,410),(5.70,450),(5.80,430),(5.90,420),
         (6.00,460),(6.08,520),(6.15,600),(6.22,640),(6.30,560),(6.38,470),(6.45,430),(6.55,450),(6.65,420),(6.75,440),
         (6.85,410),(6.95,450),(7.05,420),(7.15,440),(7.25,410),(7.35,450),(7.45,430),(7.55,410),(7.62,380),(7.70,250),
         (7.78,120),(8.00,80)]
RF_c3 = [(5.02,25),(6.02,25),(6.10,120),(6.20,260),(6.28,210),(6.38,80),(6.48,25),(8.00,25)]
RF_c1 = [(5.02,20),(6.02,20),(6.10,100),(6.20,230),(6.28,180),(6.38,60),(6.48,20),(8.00,20)]
RF_c4 = [(5.02,20),(6.02,20),(6.10,110),(6.20,250),(6.28,200),(6.38,70),(6.48,20),(8.00,20)]
RF_red = [((5.55,2700),(5.80,2450)), ((7.45,1400),(7.55,1300))]
RF_cyan = [(5.02,3300,3800)]
RF_marks = [(5.02,3600,3900),(5.10,3450,3700),(5.60,2650,2900),(5.65,2400,2650),(5.75,2500,2750),(5.80,2300,2550),
            (7.45,1300,1550),(7.52,1200,1450)]

# ====================== STYLE / LAYOUT ======================
W, H = 1445, 738
COL_LEFT = [103, 572, 1041]
COL_W = [397, 397, 395]
ROW_TOP = [29, 142, 252, 365, 477, 588]
ROW_H = 88
YLABEL_X = [72, 540, 1011]
SEP_X = [83, 555, 1018]
ROW_LETTER_Y = [57, 181, 296, 410, 522, 633]
TITLE_X = [293, 760, 1228]
BOTTOM_X = [283, 747, 1228]

C_QUAN = '#111111'
C_C1 = '#3c3cdc'
C_C2 = '#e050e0'
C_C3 = '#a63a32'
C_C4 = '#2fc02f'
C_RED = '#e8402a'
C_CYAN = '#40d8e8'
C_MARK = '#3a3ad8'
C_FILL = '#f47a68'
C_GRID = '#c4c4c4'
LEG_COLORS = [C_QUAN, C_C1, C_C2, C_C3, C_C4]

fig = plt.figure(figsize=(W / 100, H / 100), dpi=100)
fig.patch.set_facecolor('white')


def fmt_e(v):
    m, e = f"{v:.1e}".split('e')
    return f"{m}e{int(e)}"


def xy(pairs):
    a = np.array(pairs, dtype=float)
    return a[:, 0], a[:, 1]


def draw_panel(ci, ri, quan, c1, c2, c3, c4, yt, ylabel, red=(), cyan=(), marks=(), label=None,
               fill=None, label_color='#222222'):
    l, t = COL_LEFT[ci], ROW_TOP[ri]
    ax = fig.add_axes([l / W, 1 - (t + ROW_H) / H, COL_W[ci] / W, ROW_H / H])
    ymin, ymax = yt[0], yt[-1]
    ax.set_xlim(4.4, 8.4)
    ax.set_ylim(ymin, ymax)
    # grid
    for gx in np.arange(4.5, 8.35, 0.1):
        ax.axvline(gx, color=C_GRID, lw=0.5, ls=(0, (1, 1.5)), zorder=0)
    for gy in np.linspace(ymin, ymax, 8)[1:-1]:
        ax.axhline(gy, color=C_GRID, lw=0.5, ls=(0, (1, 1.5)), zorder=0)
    # traces
    x, y = xy(c2); ax.plot(x, y, color=C_C2, lw=0.9, zorder=3)
    if fill is not None:
        qx, qy = xy(quan)
        sel = (qx >= fill[0]) & (qx <= fill[1])
        ax.fill_between(qx[sel], fill[2], qy[sel], color=C_FILL, alpha=0.9, lw=0, zorder=2)
    x, y = xy(quan); ax.plot(x, y, color=C_QUAN, lw=1.5, zorder=4)
    x, y = xy(c3); ax.plot(x, y, color=C_C3, lw=0.9, zorder=5)
    x, y = xy(c1); ax.plot(x, y, color=C_C1, lw=0.9, zorder=5)
    x, y = xy(c4); ax.plot(x, y, color=C_C4, lw=1.0, zorder=6)
    for (p0, p1) in red:
        ax.plot([p0[0], p1[0]], [p0[1], p1[1]], color=C_RED, lw=0.9, zorder=7)
    for (cx, y0, y1) in cyan:
        ax.plot([cx, cx], [y0, y1], color=C_CYAN, lw=1.2, zorder=7)
    for (mx, y0, y1) in marks:
        ax.plot([mx, mx], [y0, y1], color=C_MARK, lw=1.0, zorder=8)
    if label is not None:
        ax.text(label[0], label[1], label[2], fontsize=6.3, family=NARROW, color=label_color,
                ha='left', va='center', zorder=9)
    # spines / ticks
    for s in ax.spines.values():
        s.set_color('#3a3a3a'); s.set_linewidth(1.1)
    ax.set_xticks(X_TICKS)
    ax.set_xticklabels([f"{v:.2f}" for v in X_TICKS], family=NARROW)
    ax.xaxis.set_minor_locator(MultipleLocator(0.1))
    ax.set_yticks(yt)
    ax.set_yticklabels([fmt_e(v) for v in yt], family=NARROW)
    ax.set_yticks(np.linspace(ymin, ymax, 8)[1:-1], minor=True)
    ax.tick_params(which='major', labelsize=5.2, length=3, width=0.6, pad=1.5, colors='#333333')
    ax.tick_params(which='minor', length=1.5, width=0.5, colors='#333333')
    # in-plot legend
    ax.text(0.015, 0.87, "counts", transform=ax.transAxes, fontsize=5.5, family=NARROW,
            color='#333333', va='center', ha='left')
    ax.add_patch(Rectangle((0.015, 0.09), 0.108, 0.71, transform=ax.transAxes, fill=True, facecolor='white',
                           edgecolor='#222222', lw=1.0, zorder=10))
    for k, (nm, col) in enumerate(zip(LEGEND_NAMES, LEG_COLORS)):
        xk = 0.0265 + k * 0.0215
        ax.text(xk, 0.77, nm, transform=ax.transAxes, rotation=90, fontsize=6.2, ha='center', va='top',
                color='#222222', zorder=11)
        ax.plot([xk, xk], [0.12, 0.37], transform=ax.transAxes, color=col, lw=1.1, zorder=11)
    ax.text(0.965, 0.10, "min", transform=ax.transAxes, fontsize=5.8, family=NARROW,
            color='#444444', ha='center', va='center')
    # y label
    fig.text(YLABEL_X[ci] / W, 1 - (t + ROW_H / 2) / H, ylabel, rotation=90, fontsize=7.5,
             color='#4a4f60', ha='center', va='center')
    # panel separator lines
    fig.add_artist(Line2D([SEP_X[ci] / W, (l + COL_W[ci] + 6) / W], [1 - (t - 4) / H] * 2,
                          color='#b5b5b5', lw=0.8))
    fig.add_artist(Line2D([SEP_X[ci] / W] * 2, [1 - (t - 4) / H, 1 - (t + ROW_H + 18) / H],
                          color='#b5b5b5', lw=0.8))
    return ax


E = ()
# Left column
draw_panel(0, 0, LA_quan, LA_c1, LA_c2, LA_c3, LA_c4, YT_L[0], YLABELS_L[0], LA_red, E, LA_marks)
draw_panel(0, 1, LB_quan, LB_c1, LB_c2, LB_c3, LB_c4, YT_L[1], YLABELS_L[1], LB_red, LB_cyan, LB_marks)
draw_panel(0, 2, LC_quan, LC_c1, LC_c2, LC_c3, LC_c4, YT_L[2], YLABELS_L[2], LC_red, E, LC_marks, LC_label)
draw_panel(0, 3, LD_quan, LD_c1, LD_c2, LD_c3, LD_c4, YT_L[3], YLABELS_L[3], LD_red, LD_cyan, LD_marks)
draw_panel(0, 4, LE_quan, LE_c1, LE_c2, LE_c3, LE_c4, YT_L[4], YLABELS_L[4], LE_red, E, LE_marks)
draw_panel(0, 5, LF_quan, LF_c1, LF_c2, LF_c3, LF_c4, YT_L[5], YLABELS_L[5], LF_red, LF_cyan, LF_marks)
# Middle column
draw_panel(1, 0, MA_quan, MA_c1, MA_c2, MA_c3, MA_c4, YT_M[0], YLABELS_M[0], MA_red, E, MA_marks, MA_label,
           fill=MA_fill, label_color='#f06048')
draw_panel(1, 1, MB_quan, MB_c1, MB_c2, MB_c3, MB_c4, YT_M[1], YLABELS_M[1], MB_red, E, MB_marks, MB_label)
draw_panel(1, 2, MC_quan, MC_c1, MC_c2, MC_c3, MC_c4, YT_M[2], YLABELS_M[2], MC_red, E, MC_marks, MC_label)
draw_panel(1, 3, MD_quan, MD_c1, MD_c2, MD_c3, MD_c4, YT_M[3], YLABELS_M[3], MD_red, MD_cyan, MD_marks)
draw_panel(1, 4, ME_quan, ME_c1, ME_c2, ME_c3, ME_c4, YT_M[4], YLABELS_M[4], ME_red, E, ME_marks, ME_label)
draw_panel(1, 5, MF_quan, MF_c1, MF_c2, MF_c3, MF_c4, YT_M[5], YLABELS_M[5], MF_red, MF_cyan, MF_marks)
# Right column
draw_panel(2, 0, RA_quan, RA_c1, RA_c2, RA_c3, RA_c4, YT_R[0], YLABELS_R[0], RA_red, E, RA_marks, RA_label,
           fill=RA_fill, label_color='#f06048')
draw_panel(2, 1, RB_quan, RB_c1, RB_c2, RB_c3, RB_c4, YT_R[1], YLABELS_R[1], RB_red, RB_cyan, RB_marks, RB_label)
draw_panel(2, 2, RC_quan, RC_c1, RC_c2, RC_c3, RC_c4, YT_R[2], YLABELS_R[2], RC_red, E, RC_marks, RC_label)
draw_panel(2, 3, RD_quan, RD_c1, RD_c2, RD_c3, RD_c4, YT_R[3], YLABELS_R[3], RD_red, RD_cyan, RD_marks, RD_label)
draw_panel(2, 4, RE_quan, RE_c1, RE_c2, RE_c3, RE_c4, YT_R[4], YLABELS_R[4], RE_red, E, RE_marks, RE_label)
draw_panel(2, 5, RF_quan, RF_c1, RF_c2, RF_c3, RF_c4, YT_R[5], YLABELS_R[5], RF_red, RF_cyan, RF_marks)

# Titles, row letters, column captions
for ci in range(3):
    fig.text(TITLE_X[ci] / W, 1 - 17 / H, COMPOUND, fontsize=7.2, family=NARROW, color='#333333',
             ha='center', va='center')
    fig.text(BOTTOM_X[ci] / W, 1 - 723 / H, COL_TITLES[ci], fontsize=15.5, fontweight='bold',
             color='#111111', ha='center', va='center')
for ri, letter in enumerate(ROW_LETTERS):
    fig.text(17 / W, 1 - ROW_LETTER_Y[ri] / H, letter, fontsize=12, fontweight='bold',
             color='#111111', ha='center', va='center')

fig.savefig("out.png", dpi=100)
